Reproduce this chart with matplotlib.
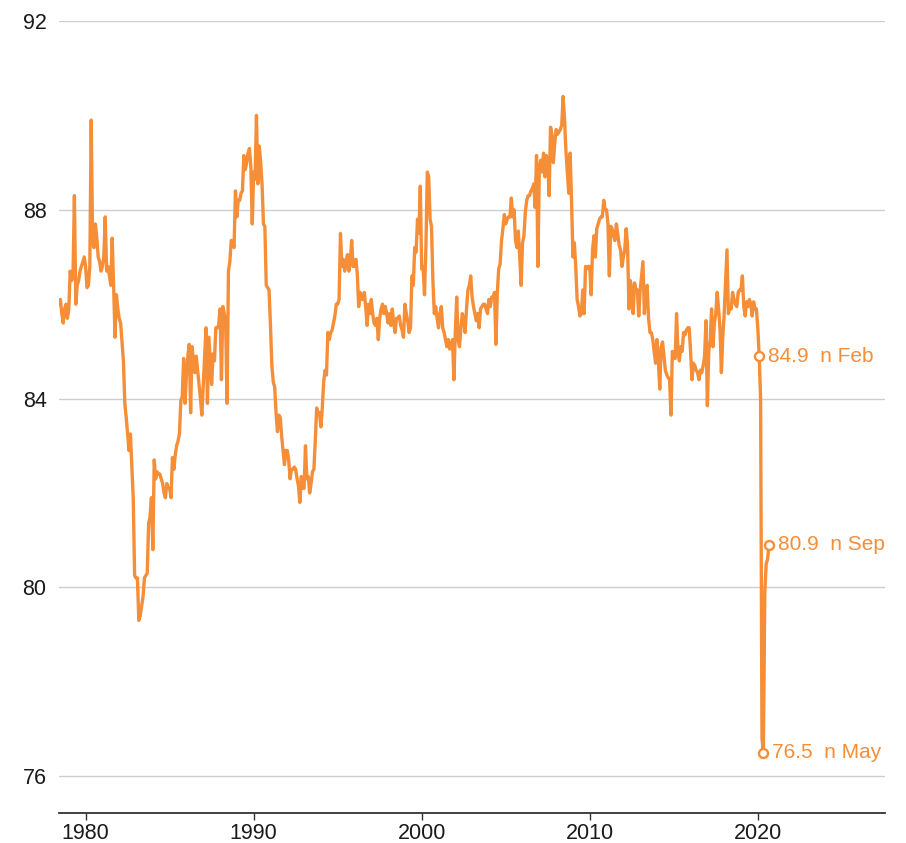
import matplotlib
matplotlib.use('Agg')
import matplotlib.pyplot as plt
from matplotlib import font_manager
import numpy as np

# ---------------- data (monthly, starting June 1978) ----------------
start_year, start_month = 1978, 6

vals_1978_1979 = [86.0, 86.1, 85.8, 85.6, 85.9, 86.0, 85.7,
                  85.9, 86.7, 86.5, 86.6, 88.3, 86.0, 86.4, 86.5, 86.7, 86.8, 86.9, 87.0]

vals_1980s = [
    86.8, 86.35, 86.4, 86.8, 89.9, 87.3, 87.2, 87.7, 87.4, 87.0, 86.9, 86.7,
    86.8, 87.0, 87.85, 86.7, 86.8, 86.6, 86.4, 87.4, 86.4, 85.3, 86.2, 85.9,
    85.7, 85.6, 85.2, 84.8, 83.9, 83.6, 83.25, 82.9, 83.25, 82.6, 81.9, 80.25,
    80.2, 80.2, 79.3, 79.4, 79.6, 79.8, 80.2, 80.25, 80.3, 81.35, 81.5, 81.9,
    80.8, 82.7, 82.3, 82.45, 82.4, 82.4, 82.3, 82.2, 82.0, 81.9, 82.2, 82.1,
    82.1, 81.9, 82.75, 82.5, 82.8, 83.0, 83.1, 83.25, 83.95, 84.05, 84.85, 83.9,
    84.5, 84.9, 85.15, 83.7, 85.1, 84.8, 84.55, 84.9, 84.6, 84.3, 84.0, 83.65,
    84.3, 84.9, 85.5, 83.9, 85.3, 84.8, 84.3, 84.95, 84.8, 85.5, 85.5, 85.55,
    85.9, 84.4, 85.95, 85.8, 85.6, 83.9, 86.7, 86.9, 87.35, 87.3, 87.2, 88.4,
    87.85, 88.2, 88.2, 88.35, 88.4, 89.15, 88.85, 89.0, 89.2, 89.3, 88.9, 87.7,
]

vals_1990s = [
    88.8, 88.65, 90.0, 88.55, 89.35, 89.0, 88.55, 87.7, 87.65, 86.4, 86.35, 86.3,
    85.55, 84.7, 84.35, 84.25, 83.7, 83.3, 83.65, 83.6, 83.2, 82.9, 82.6, 82.9,
    82.9, 82.7, 82.3, 82.5, 82.5, 82.55, 82.5, 82.3, 82.15, 81.8, 82.35, 82.1,
    82.1, 83.0, 82.3, 82.35, 82.0, 82.2, 82.45, 82.5, 83.1, 83.8, 83.7, 83.7,
    83.4, 83.8, 84.35, 84.6, 84.5, 85.4, 85.25, 85.4, 85.45, 85.6, 85.75, 86.0,
    86.0, 86.1, 87.5, 86.8, 86.95, 86.7, 86.9, 87.05, 86.7, 86.9, 87.35, 86.8,
    86.8, 86.95, 86.65, 85.95, 86.25, 86.1, 86.1, 86.25, 85.95, 85.55, 86.0, 85.8,
    86.1, 85.8, 85.6, 85.55, 85.7, 85.25, 85.7, 85.9, 86.0, 85.8, 85.95, 85.8,
    85.6, 85.8, 85.55, 85.9, 85.6, 85.4, 85.7, 85.7, 85.75, 85.55, 85.45, 85.3,
    86.0, 85.8, 85.65, 85.4, 85.5, 86.6, 86.4, 87.2, 87.1, 87.8, 87.5, 88.5,
]

vals_2000s = [
    86.75, 86.8, 86.2, 87.2, 88.8, 88.7, 87.8, 87.65, 86.5, 85.8, 85.95, 85.7,
    85.5, 85.8, 85.95, 85.5, 85.4, 85.25, 85.1, 85.25, 85.05, 85.1, 85.25, 84.4,
    85.4, 86.15, 85.25, 85.1, 85.5, 85.8, 85.65, 85.4, 85.9, 86.3, 86.4, 86.6,
    86.15, 85.95, 85.8, 85.65, 85.8, 85.5, 85.9, 85.95, 86.0, 86.0, 85.9, 85.8,
    86.1, 85.95, 86.15, 86.15, 86.25, 85.15, 86.25, 86.75, 86.85, 87.35, 87.6, 87.9,
    87.7, 87.8, 87.85, 87.85, 88.25, 87.85, 88.0, 87.35, 87.2, 87.55, 87.0, 86.4,
    87.3, 87.45, 87.95, 88.2, 88.3, 88.3, 88.4, 88.45, 88.55, 88.05, 89.15, 86.8,
    88.9, 89.05, 88.8, 89.2, 88.7, 89.15, 89.0, 88.3, 89.75, 89.6, 89.0, 89.4,
    89.7, 89.6, 89.65, 89.7, 89.8, 90.4, 89.9, 89.25, 88.8, 88.35, 89.2, 88.2,
    87.0, 87.3, 86.8, 86.1, 85.95, 85.75, 85.8, 86.3, 85.8, 86.8, 86.75, 86.8,
]

vals_2010s = [
    86.8, 86.2, 87.15, 87.45, 87.0, 87.6, 87.7, 87.8, 87.85, 87.85, 88.2, 88.0,
    88.0, 87.7, 86.6, 87.65, 87.6, 87.45, 87.35, 87.7, 87.5, 87.25, 87.15, 86.8,
    87.0, 87.15, 87.6, 87.25, 85.9, 86.5, 86.3, 85.8, 86.45, 86.3, 86.3, 85.75,
    86.3, 86.6, 86.9, 85.8, 86.25, 86.4, 85.7, 85.4, 85.4, 85.25, 85.0, 84.75,
    85.25, 84.8, 84.2, 85.1, 85.2, 84.9, 84.6, 84.5, 84.45, 84.4, 83.65, 85.0,
    84.9, 84.85, 85.8, 85.0, 84.8, 85.1, 85.0, 85.4, 85.35, 85.45, 85.5, 85.5,
    85.0, 84.4, 84.75, 84.7, 84.6, 84.55, 84.4, 84.6, 84.55, 84.7, 84.9, 85.65,
    83.85, 85.0, 85.25, 85.9, 85.1, 85.6, 85.8, 86.25, 85.9, 85.5, 84.55, 85.3,
    85.8, 86.5, 87.15, 85.8, 85.95, 85.9, 86.25, 86.1, 86.0, 85.95, 86.25, 86.3,
    86.3, 86.6, 85.95, 85.75, 86.05, 85.95, 86.1, 86.0, 85.75, 86.05, 85.9, 85.9,
]

vals_2020 = [85.5, 84.9, 84.0, 76.8, 76.5, 79.9, 80.5, 80.6, 80.9]

highlight_months = [(2020, 2), (2020, 5), (2020, 9)]
month_names = ["Jan", "Feb", "Mar", "Apr", "May", "Jun",
               "Jul", "Aug", "Sep", "Oct", "Nov", "Dec"]

y_ticks = [76, 80, 84, 88, 92]
x_ticks = [1980, 1990, 2000, 2010, 2020]

# ---------------- build series ----------------
values = np.array(vals_1978_1979 + vals_1980s + vals_1990s + vals_2000s
                  + vals_2010s + vals_2020)
t = start_year + (start_month - 1) / 12 + np.arange(len(values)) / 12

# ---------------- fonts ----------------
available = {f.name for f in font_manager.fontManager.ttflist}
narrow = 'Liberation Sans Narrow' if 'Liberation Sans Narrow' in available else 'Liberation Sans'
plt.rcParams['font.family'] = ['Liberation Sans', 'DejaVu Sans']

ORANGE = '#F68D37'

fig = plt.figure(figsize=(9.06, 8.43), dpi=100)
ax = fig.add_axes([59 / 906, 30 / 843, 826 / 906, 792 / 843])

ax.plot(t, values, color=ORANGE, lw=2.4, solid_joinstyle='round', zorder=3)

for (yy, mm) in highlight_months:
    idx = (yy - start_year) * 12 + (mm - start_month)
    xv, yv = t[idx], values[idx]
    ax.plot([xv], [yv], marker='o', ms=6.5, mfc='white', mec=ORANGE,
            mew=1.7, zorder=4, clip_on=False)
    ax.annotate(f"{yv:.1f}  n {month_names[mm - 1]}", xy=(xv, yv),
                xytext=(6.5, 0), textcoords='offset points',
                ha='left', va='center', color=ORANGE, fontsize=15,
                family=['Liberation Sans', 'DejaVu Sans'])

ax.set_xlim(t[0], 2027.57)
ax.set_ylim(75.22, 92.0)

ax.set_yticks(y_ticks)
ax.set_xticks(x_ticks)
ax.yaxis.grid(True, color='#CDCDD2', lw=1.0, zorder=0)
ax.set_axisbelow(True)

for s in ['top', 'right', 'left']:
    ax.spines[s].set_visible(False)
ax.spines['bottom'].set_color('#333333')
ax.spines['bottom'].set_linewidth(1.3)

tick_size = 16 if narrow == 'Liberation Sans Narrow' else 15.5
ax.tick_params(axis='y', length=0, pad=9, labelsize=tick_size, labelcolor='#1a1a1a')
ax.tick_params(axis='x', length=5, width=1, color='#333333', pad=2,
               labelsize=tick_size, labelcolor='#1a1a1a', direction='out')
for lab in ax.get_xticklabels() + ax.get_yticklabels():
    lab.set_family([narrow, 'DejaVu Sans'])

fig.savefig('out.png', dpi=100)
